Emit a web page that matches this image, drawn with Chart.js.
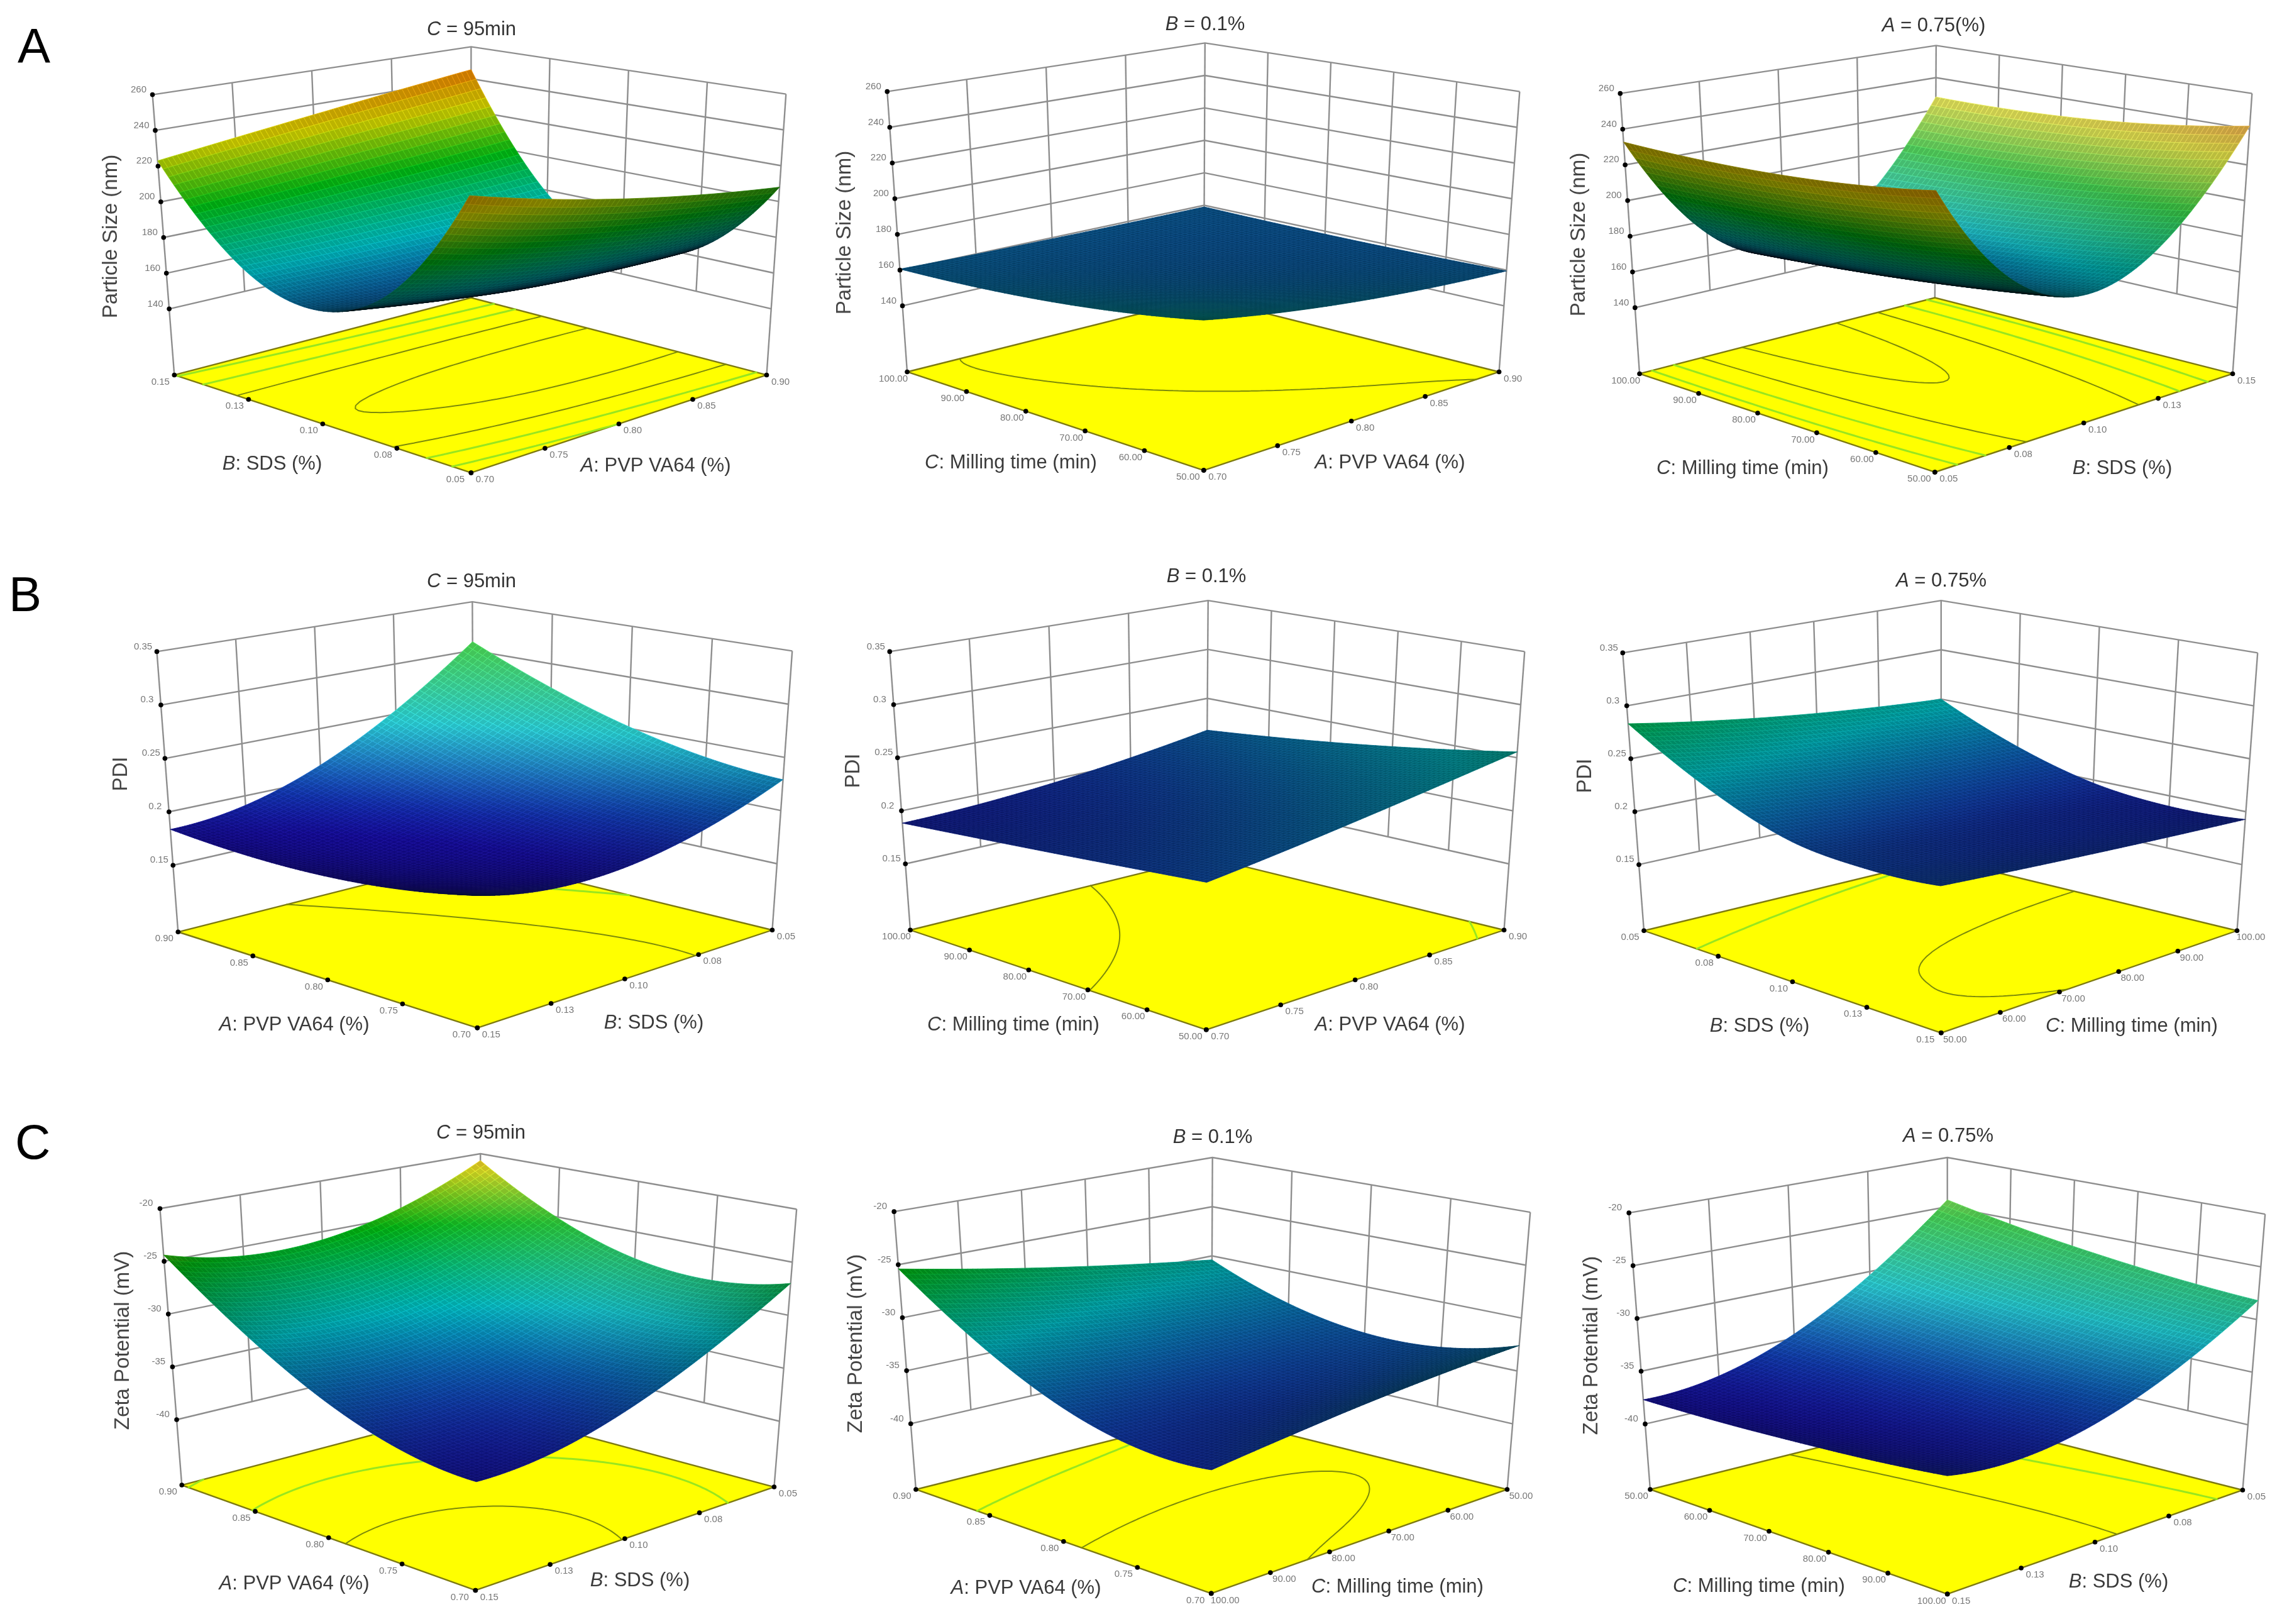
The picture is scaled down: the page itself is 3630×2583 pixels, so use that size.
<!DOCTYPE html>
<html><head><meta charset="utf-8">
<style>html,body{margin:0;padding:0;background:#fff}canvas{position:absolute}</style>
<script src="https://cdn.jsdelivr.net/npm/chart.js@4/dist/chart.umd.js"></script>
</head><body>
<script>
// ---- DATA: response values at 5x5 nodes of each floor
// rows run along the left-hand floor axis (front -> left), columns along the right-hand axis (front -> right)
const sizeAB=[[237.6,228.1,220,213.3,208],[182,174.1,168.5,165.5,164.7],[162,158.5,155.5,154.5,154.7],[174.7,174.5,175,176,178],[223,228.4,234,239.8,245.7]];
const sizeAC=[[175.8,169.7,165,161.6,159.5],[169.6,164.6,161.1,159.1,158.7],[165,161.2,158.8,157.8,158.3],[162,159.6,158.2,157.8,158.4],[160.6,159.8,159.3,159,159]];
const sizeBC=[[239.5,187.1,170,188.2,241.8],[234.7,181.9,164.4,182,235],[232,177.8,159.5,177,230.5],[231.4,174.8,155.4,173.1,228.2],[232.8,172.8,152,170.4,228]];
const pdiAB=[[.1957,.1843,.186,.2009,.229],[.1842,.1766,.1826,.2024,.236],[.1784,.1751,.1862,.2117,.2516],[.1782,.1799,.1968,.2288,.276],[.1836,.191,.2144,.2537,.309]];
const pdiAC=[[.2072,.2165,.2277,.2407,.2555],[.2027,.2084,.2172,.2291,.244],[.198,.2014,.2085,.2193,.2338],[.1933,.1955,.2016,.2114,.225],[.1884,.1908,.1965,.2054,.2175]];
const pdiBC=[[.2062,.2025,.199,.1957,.1927],[.204,.1995,.196,.1935,.19],[.2115,.2058,.2015,.1986,.197],[.239,.231,.2247,.2202,.2174],[.2831,.2719,.2626,.2553,.25]];
const zetaAB=[[-37.5,-36.9,-34.9,-31.6,-27],[-36.7,-36.7,-35.3,-32.5,-28.2],[-34.3,-34.8,-33.9,-31.5,-27.6],[-30.2,-31.2,-30.7,-28.7,-25.1],[-24.4,-25.9,-25.8,-24.1,-20.7]];
const zetaAC=[[-36.3,-35.3,-34.3,-33.4,-32.6],[-36.2,-36.1,-35.75,-35.1,-34.3],[-34.4,-35,-35.2,-35,-34.5],[-30.8,-31.9,-32.65,-33.1,-33.2],[-25.4,-26.8,-28.1,-29.3,-30.4]];
const zetaBC=[[-36.7,-37,-35.7,-32.8,-28.2],[-37.2,-37.3,-35.8,-32.6,-27.7],[-37.5,-37.4,-35.6,-32.1,-26.9],[-37.7,-37.3,-35.2,-31.4,-25.8],[-37.7,-37.05,-34.6,-30.35,-24.3]];
const tickA=['0.70','0.75','0.80','0.85','0.90'];
const tickB=['0.05','0.08','0.10','0.13','0.15'];
const tickC=['50.00','60.00','70.00','80.00','90.00','100.00'];
const tickBrev=tickB.slice().reverse();
const tickCrev=tickC.slice().reverse();
const sizeTicks=[140,160,180,200,220,240,260];
const pdiTicks=[0.15,0.2,0.25,0.3,0.35];
const zetaTicks=[-40,-35,-30,-25,-20];
const sizeContours=[160,180,200,220];
const pdiContours=[0.2,0.25,0.3];
const zetaContours=[-35,-30,-25];
const labelA=['A',': PVP VA64 (%)'],labelB=['B',': SDS (%)'],labelC=['C',': Milling time (min)'];

// ---- Metric settings: axis extent of the box and colour ramp anchors
const METRIC={
 size:{zr:[103,260],ticks:sizeTicks,contours:sizeContours,title:'Particle Size (nm)',ramp:[140,172,200,226,258]},
 pdi:{zr:[0.0876,0.35],ticks:pdiTicks,contours:pdiContours,title:'PDI',ramp:[0.18,0.245,0.305,0.36,0.41]},
 zeta:{zr:[-46.2,-20],ticks:zetaTicks,contours:zetaContours,title:'Zeta Potential (mV)',ramp:[-38,-31,-25.5,-21.5,-18]}
};
// ---- Panel definitions. box: F,L,R,Bk floor corners then TL,TR,TB top corners (page px)
const PANELS=[
{m:'size',t:sizeAB,title:['C',' = 95min'],left:tickB,right:tickA,ll:labelB,rl:labelA,box:[750,755,275,598,1223,598,750,474,240,148,1254,147,750,71],tp:[750,47],zp:[177,376],lp:[433,738],rp:[1043,741]},
{m:'size',t:sizeAC,title:['B',' = 0.1%'],left:tickC,right:tickA,ll:labelC,rl:labelA,box:[1915,751,1440,593,2388,593,1915,474,1408,143,2421,143,1917,65],tp:[1917,39],zp:[1344,370],lp:[1608,736],rp:[2211,736]},
{m:'size',t:sizeBC,title:['A',' = 0.75(%)'],left:tickC,right:tickB,ll:labelC,rl:labelB,box:[3078,754,2605,596,3555,596,3078,474,2574,146,3586,146,3080,69],tp:[3076,41],zp:[2512,373],lp:[2772,745],rp:[3376,745]},
{m:'pdi',t:pdiAB,title:['C',' = 95min'],left:tickA,right:tickBrev,ll:labelA,rl:labelB,box:[760,1638,281,1484,1232,1481,754,1364,247,1034,1264,1033,752,954],tp:[750,925],zp:[193,1231],lp:[468,1630],rp:[1040,1627]},
{m:'pdi',t:pdiAC,title:['B',' = 0.1%'],left:tickC,right:tickA,ll:labelC,rl:labelA,box:[1919,1641,1445,1481,2396,1481,1919,1364,1412,1034,2429,1034,1922,952],tp:[1919,917],zp:[1358,1226],lp:[1612,1630],rp:[2211,1630]},
{m:'pdi',t:pdiBC,title:['A',' = 0.75%'],left:tickBrev,right:tickC,ll:labelB,rl:labelC,box:[3088,1646,2612,1482,3562,1482,3088,1367,2578,1036,3595,1036,3088,952],tp:[3088,924],zp:[2522,1234],lp:[2799,1632],rp:[3391,1632]},
{m:'zeta',t:zetaAB,title:['C',' = 95min'],left:tickA,right:tickBrev,ll:labelA,rl:labelB,box:[757,2533,287,2364,1235,2367,760,2239,252,1920,1271,1921,765,1832],tp:[765,1802],zp:[196,2132],lp:[468,2519],rp:[1018,2514]},
{m:'zeta',t:zetaAC,title:['B',' = 0.1%'],left:tickA,right:tickCrev,ll:labelA,rl:labelC,box:[1927,2538,1454,2371,2401,2371,1927,2252,1419,1925,2438,1926,1929,1838],tp:[1929,1809],zp:[1362,2137],lp:[1632,2526],rp:[2223,2524]},
{m:'zeta',t:zetaBC,title:['A',' = 0.75%'],left:tickCrev,right:tickBrev,ll:labelC,rl:labelB,box:[3098,2539,2622,2371,3571,2372,3098,2252,2588,1927,3607,1929,3098,1838],tp:[3099,1807],zp:[2532,2140],lp:[2798,2523],rp:[3370,2516]}
];
const CW=[[0,1300],[1300,1170],[2470,1160]],CH=[[0,860],[860,870],[1730,853]];
const FONT='"Liberation Sans"';
const RAMP=[[30,15,235],[0,225,235],[0,205,20],[225,225,0],[255,70,0]];
const MESH=64,ELEV=17*Math.PI/180,BOXH=0.7;

function project(box,u,v,t,ox,oy){
 const [fx,fy,lx,ly,rx,ry,bx,by,tlx,tly,trx,try_,tbx,tby]=box;
 const tfx=(tlx+trx)/2,tfy=tly+88;
 const bil=(a,b,c,d)=>a*(1-u)*(1-v)+b*u*(1-v)+c*(1-u)*v+d*u*v;
 const x0=bil(fx,rx,lx,bx),y0=bil(fy,ry,ly,by),x1=bil(tfx,trx,tlx,tbx),y1=bil(tfy,try_,tly,tby);
 return {x:x0+(x1-x0)*t-ox,y:y0+(y1-y0)*t-oy};
}
// Smooth drawing between the read nodes, like a line's tension
function cr(p,s){
 const n=p.length-1,i=Math.min(n-1,Math.floor(s)),f=s-i;
 const a=i>0?p[i-1]:3*p[0]-3*p[1]+p[2],b=p[i],c=p[i+1],d=i<n-1?p[i+2]:3*p[n]-3*p[n-1]+p[n-2];
 return 0.5*((2*b)+(c-a)*f+(2*a-5*b+4*c-d)*f*f+(3*b-a-3*c+d)*f*f*f);
}
function fineGrid(t){
 const cols=t[0].map((_,c)=>t.map(r=>r[c])),g=[];
 for(let j=0;j<=MESH;j++){const r=j/MESH*4,row=cols.map(c=>cr(c,r)),o=[];
  for(let i=0;i<=MESH;i++)o.push(cr(row,i/MESH*4));g.push(o);}
 return g;
}
function rampColor(ramp,z){
 let k=0;while(k<ramp.length-2&&z>ramp[k+1])k++;
 const f=Math.max(0,Math.min(1,(z-ramp[k])/(ramp[k+1]-ramp[k])));
 return RAMP[k].map((c,i)=>c+(RAMP[k+1][i]-c)*f);
}
function richText(ctx,parts,cx,cy,size,color){
 ctx.fillStyle=color;ctx.textBaseline='middle';ctx.textAlign='left';
 ctx.font='italic '+size+'px '+FONT;const a=ctx.measureText(parts[0]).width;
 ctx.font=size+'px '+FONT;const b=ctx.measureText(parts[1]).width;
 let x=-(a+b)/2;
 ctx.font='italic '+size+'px '+FONT;ctx.fillText(parts[0],cx+x,cy);
 ctx.font=size+'px '+FONT;ctx.fillText(parts[1],cx+x+a,cy);
}
const surfacePainter={id:'surfacePainter',
 afterDatasetDraw(chart,args){
  const ds=chart.data.datasets[args.index],P=chart.$panel;if(!P)return;
  const ctx=chart.ctx,xs=chart.scales.x,ys=chart.scales.y,M=METRIC[P.m];
  const px=(u,v,t)=>{const q=project(P.box,u,v,t,P.ox,P.oy);return [xs.getPixelForValue(q.x),ys.getPixelForValue(q.y)];};
  const grid=P.grid,range=M.zr[1]-M.zr[0];
  if(ds.role==='floor'){ // contour lines of the surface on the floor
   ctx.save();ctx.lineCap='round';
   M.contours.forEach((level,li)=>{
    const lv=level+range*1e-6;
    const dark=li<(P.m==='size'?2:1);
    ctx.strokeStyle=dark?'#7c8a0a':'#98e620';ctx.lineWidth=dark?2:3;ctx.beginPath();
    for(let j=0;j<MESH;j++)for(let i=0;i<MESH;i++){
     const c=[[i,j,grid[j][i]],[i+1,j,grid[j][i+1]],[i+1,j+1,grid[j+1][i+1]],[i,j+1,grid[j+1][i]]],pts=[];
     for(let k=0;k<4;k++){const a=c[k],b=c[(k+1)%4];
      if((a[2]-lv)*(b[2]-lv)<0){const f=(lv-a[2])/(b[2]-a[2]);pts.push(px((a[0]+(b[0]-a[0])*f)/MESH,(a[1]+(b[1]-a[1])*f)/MESH,0));}}
     if(pts.length>=2){ctx.moveTo(pts[0][0],pts[0][1]);ctx.lineTo(pts[1][0],pts[1][1]);}
    }
    ctx.stroke();
   });
   ctx.restore();
  }
  if(ds.role==='surface'){ // dense shaded mesh through the scales
   const sv=Math.sin(ELEV),cv=Math.cos(ELEV)/Math.SQRT2;
   ctx.save();ctx.lineJoin='round';
   for(let j=MESH-1;j>=0;j--)for(let i=MESH-1;i>=0;i--){
    const a=grid[j][i],b=grid[j][i+1],c=grid[j+1][i+1],d=grid[j+1][i];
    const z=(a+b+c+d)/4;
    const du=((b+c-a-d)/2)/range*BOXH*MESH,dv=((c+d-a-b)/2)/range*BOXH*MESH;
    const nl=Math.hypot(du,dv,1),dot=Math.abs((du+dv)*cv+sv)/nl;
    const f=0.03+0.97*Math.pow(dot,0.68);
    const nL=(0.8*du+0.3*dv+0.52)/nl;
    const w=nL>0.72?Math.pow((nL-0.72)/0.28,1.5)*0.42:0;
    const base=rampColor(M.ramp,z).map(v=>v*f*(1-w)+255*w);
    const col=`rgb(${base.map(v=>Math.round(v)).join(',')})`;
    const mesh=`rgb(${base.map(v=>Math.min(255,Math.round(v*1.16+8*f))).join(',')})`;
    const p=[px(i/MESH,j/MESH,(a-M.zr[0])/range),px((i+1)/MESH,j/MESH,(b-M.zr[0])/range),px((i+1)/MESH,(j+1)/MESH,(c-M.zr[0])/range),px(i/MESH,(j+1)/MESH,(d-M.zr[0])/range)];
    ctx.beginPath();ctx.moveTo(p[0][0],p[0][1]);for(let k=1;k<4;k++)ctx.lineTo(p[k][0],p[k][1]);ctx.closePath();
    ctx.fillStyle=col;ctx.fill();ctx.strokeStyle=mesh;ctx.lineWidth=.9;ctx.stroke();
   }
   ctx.restore();
  }
 },
 afterDraw(chart){
  const P=chart.$panel;if(!P)return;
  const ctx=chart.ctx,xs=chart.scales.x,ys=chart.scales.y,M=METRIC[P.m];
  const at=(u,v,t)=>{const q=project(P.box,u,v,t,P.ox,P.oy);return [xs.getPixelForValue(q.x),ys.getPixelForValue(q.y)];};
  ctx.save();
  richText(ctx,P.title,P.tp[0]-P.ox,P.tp[1]-P.oy,31,'#333');
  richText(ctx,P.ll,P.lp[0]-P.ox,P.lp[1]-P.oy,31,'#3a3a3a');
  richText(ctx,P.rl,P.rp[0]-P.ox,P.rp[1]-P.oy,31,'#3a3a3a');
  ctx.save();ctx.translate(P.zp[0]-P.ox,P.zp[1]-P.oy);ctx.rotate(-Math.PI/2);
  ctx.font='33px '+FONT;ctx.textAlign='center';ctx.textBaseline='middle';ctx.fillStyle='#444';ctx.fillText(M.title,0,0);ctx.restore();
  ctx.font='15px '+FONT;ctx.fillStyle='#777';ctx.textBaseline='middle';ctx.textAlign='center';
  M.ticks.forEach(tk=>{const q=at(0,1,(tk-M.zr[0])/(M.zr[1]-M.zr[0]));ctx.fillText(String(tk),q[0]-22,q[1]-8);});
  P.left.forEach((s,i)=>{const q=at(0,i/(P.left.length-1),0);const last=i===0?-25:-22;ctx.fillText(s,q[0]+last,q[1]+11);});
  P.right.forEach((s,i)=>{const q=at(i/(P.right.length-1),0,0);ctx.fillText(s,q[0]+22,q[1]+11);});
  ctx.restore();
 }
};
Chart.register(surfacePainter);

PANELS.forEach((P,idx)=>{
 const c=idx%3,r=Math.floor(idx/3);
 P.ox=CW[c][0];P.oy=CH[r][0];
 P.grid=fineGrid(P.t);
 const M=METRIC[P.m],range=M.zr[1]-M.zr[0];
 const cv=document.createElement('canvas');cv.width=CW[c][1];cv.height=CH[r][1];
 cv.style.left=P.ox+'px';cv.style.top=P.oy+'px';cv.style.width=cv.width+'px';cv.style.height=cv.height+'px';
 document.body.appendChild(cv);
 const pr=(u,v,t)=>project(P.box,u,v,t,P.ox,P.oy);
 const line=(pts,extra)=>Object.assign({data:pts,showLine:true,borderColor:'#8e8e8e',borderWidth:2.4,pointRadius:0,fill:false,order:50,tension:0},extra||{});
 const ds=[];
 const tk=M.ticks.map(z=>(z-M.zr[0])/range);
 tk.forEach(t=>ds.push(line([pr(0,1,t),pr(1,1,t),pr(1,0,t)])));
 const low=tk[0];
 P.right.forEach((_,i)=>{if(i>0&&i<P.right.length-1)ds.push(line([pr(i/(P.right.length-1),1,low),pr(i/(P.right.length-1),1,1)]));});
 P.left.forEach((_,i)=>{if(i>0&&i<P.left.length-1)ds.push(line([pr(1,i/(P.left.length-1),low),pr(1,i/(P.left.length-1),1)]));});
 ds.push(line([pr(0,1,0),pr(0,1,1)]));ds.push(line([pr(1,0,0),pr(1,0,1)]));ds.push(line([pr(1,1,0),pr(1,1,1)]));
 ds.push(line([pr(0,0,0),pr(1,0,0),pr(1,1,0),pr(0,1,0),pr(0,0,0)],{role:'floor',fill:'shape',backgroundColor:'#ffff00',borderColor:'#7d7a10',borderWidth:2.4,order:30}));
 const pts=[];P.t.forEach((row,j)=>row.forEach((z,i)=>{pts.push(Object.assign(pr(i/4,j/4,(z-M.zr[0])/range),{z}));}));
 ds.push({role:'surface',data:pts,showLine:false,pointRadius:0,order:20});
 const dots=[];
 tk.forEach(t=>dots.push(pr(0,1,t)));
 P.left.forEach((_,i)=>dots.push(pr(0,i/(P.left.length-1),0)));
 P.right.forEach((_,i)=>dots.push(pr(i/(P.right.length-1),0,0)));
 ds.push({data:dots,showLine:false,pointRadius:3.8,pointBackgroundColor:'#000',pointBorderWidth:0,order:10});
 new Chart(cv,{type:'scatter',data:{datasets:ds},
  options:{responsive:false,animation:false,devicePixelRatio:1,layout:{padding:0},events:[],
   plugins:{legend:{display:false},tooltip:{enabled:false},title:{display:false}},
   scales:{x:{type:'linear',min:0,max:cv.width,display:false},y:{type:'linear',min:0,max:cv.height,reverse:true,display:false}}},
  plugins:[{id:'bind',beforeInit(c){c.$panel=P;}}]});
});
</script>
<div style="position:absolute;left:28px;top:28px;font:78px 'Liberation Sans';line-height:90px;color:#000">A</div>
<div style="position:absolute;left:14px;top:900px;font:78px 'Liberation Sans';line-height:90px;color:#000">B</div>
<div style="position:absolute;left:24px;top:1771px;font:78px 'Liberation Sans';line-height:90px;color:#000">C</div>
</body></html>
